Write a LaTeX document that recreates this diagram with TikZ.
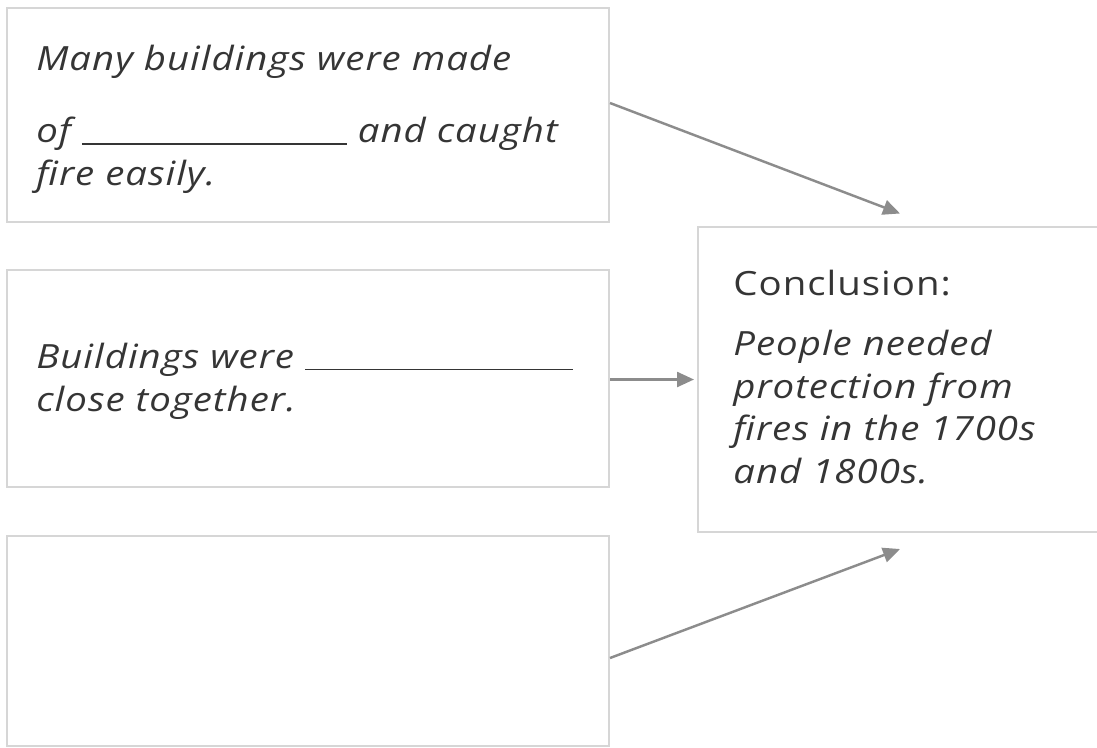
\documentclass[tikz,border=0pt]{standalone}
\usepackage{fontspec}
\setmainfont{Open Sans}
\newfontfamily\handfont{Open Sans}[LetterSpace=3,FakeStretch=1.15]
\usetikzlibrary{arrows.meta,positioning}

\definecolor{boxline}{HTML}{D6D6D6}
\definecolor{ink}{HTML}{353535}
\definecolor{arrowgray}{HTML}{8C8C8C}

\newcommand{\blankline}[1]{\textcolor{ink}{\rule[-1pt]{#1}{0.7pt}}}

\tikzset{
  card/.style={draw=boxline, line width=1.2pt, inner sep=0pt},
  words/.style={inner sep=0pt, align=left, text=ink, anchor=north west,
    font=\handfont\fontsize{19}{24.4}\selectfont\itshape},
  heading/.style={inner sep=0pt, text=ink, anchor=north west,
    font=\handfont\fontsize{19}{24.4}\selectfont},
  link/.style={draw=arrowgray, line width=1.4pt, -{Triangle[length=0.34cm,width=0.3cm]}}
}

\begin{document}
\begin{tikzpicture}[x=0.02cm, y=-0.02cm]
\useasboundingbox (0,0) rectangle (1097,747);

% reason boxes
\node[card, minimum width=12.04cm, minimum height=4.28cm] (reason1) at (308,115) {};
\node[card, minimum width=12.04cm, minimum height=4.34cm] (reason2) at (308,378.5) {};
\node[card, minimum width=12.04cm, minimum height=4.2cm] (reason3) at (308,641) {};

% conclusion box
\node[card, minimum width=8.08cm, minimum height=6.1cm] (concl) at (900,379.5) {};

% texts
\node[words] (txt1) at (36,45) {Many buildings were made\\[16.6pt]of \blankline{5.3cm} and caught\\fire easily.};
\node[words] (txt2) at (36,343) {Buildings were \blankline{5.36cm}\\close together.};
\node[heading] (conclhead) at (733,270) {Conclusion:};
\node[words, below=0.66cm of conclhead.south west, anchor=north west] (concltxt)
  {People needed\\protection from\\fires in the 1700s\\and 1800s.};

% arrows
\draw[link] ([yshift=0.24cm]reason1.east) -- ([yshift=0.25cm]concl.north);
\draw[link] (reason2.east |- concl.west) -- ([xshift=-0.06cm]concl.west);
\draw[link] ([yshift=-0.34cm]reason3.east) -- ([yshift=-0.32cm]concl.south);
\end{tikzpicture}
\end{document}
